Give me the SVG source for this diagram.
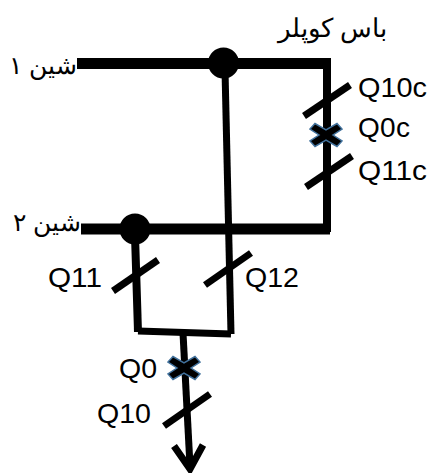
<svg xmlns="http://www.w3.org/2000/svg" width="429" height="473" viewBox="0 0 429 473">
<style>
.w{fill:none;stroke:#000;stroke-linecap:butt}
.m{stroke-width:8}
.b{stroke-width:11}
.s{stroke-width:7}
text{font-family:"Liberation Sans",Arial,sans-serif;font-size:28px;fill:#000}
.fa{font-size:25px;direction:rtl;text-anchor:start}
.top{font-size:26px}
.x{fill:#000;stroke:#41719c;stroke-width:1.5}
</style>
<defs>
<path id="cross" d="M-16-6-11-11.500 0-5 11-11.500 16-6 7 0 16 6 11 11.500 0 5-11 11.500-16 6-7 0Z"/>
</defs>
<rect width="429" height="473" fill="#fff"/>
<g id="connectors">
<path class="w b" d="M77 63.500H331"/>
<path class="w m" d="M327 63V232"/>
<path class="w b" d="M81 229H330"/>
<path class="w s" d="M225 70L231 334"/>
<path class="w m" d="M135 235L138 332"/>
<path class="w s" d="M138 331L231 334"/>
<path class="w s" d="M183 333L190 466"/>
<path class="w s" d="M174 446L190 469 203 445"/>
<path class="w s" d="M304 116L350 85"/>
<path class="w s" d="M306 187L352 156"/>
<path class="w s" d="M113 291L158 260"/>
<path class="w s" d="M205 285L251 253"/>
<path class="w s" d="M164 426L210 394"/>
</g>
<g id="junction-1"><circle cx="223.500" cy="63" r="15.500"/></g>
<g id="junction-2"><circle cx="135" cy="229" r="15.500"/></g>
<g id="q0c"><use href="#cross" class="x" x="326" y="135"/><text x="358" y="137" textLength="52">Q0c</text></g>
<g id="q0"><use href="#cross" class="x" x="184" y="368"/><text x="119" y="378" textLength="38" lengthAdjust="spacingAndGlyphs">Q0</text></g>
<g id="q10c"><text x="358" y="97" textLength="69" lengthAdjust="spacingAndGlyphs">Q10c</text></g>
<g id="q11c"><text x="358" y="180" textLength="69" lengthAdjust="spacingAndGlyphs">Q11c</text></g>
<g id="q11"><text x="48" y="287" textLength="54" lengthAdjust="spacingAndGlyphs">Q11</text></g>
<g id="q12"><text x="245" y="287" textLength="54" lengthAdjust="spacingAndGlyphs">Q12</text></g>
<g id="q10"><text x="97" y="423" textLength="54" lengthAdjust="spacingAndGlyphs">Q10</text></g>
<g id="bus-1"><text class="fa" x="77" y="74">شین ۱</text></g>
<g id="bus-2"><text class="fa" x="81" y="231">شین ۲</text></g>
<g id="bus-coupler"><text class="fa top" x="387" y="37">باس کوپلر</text></g>
</svg>
